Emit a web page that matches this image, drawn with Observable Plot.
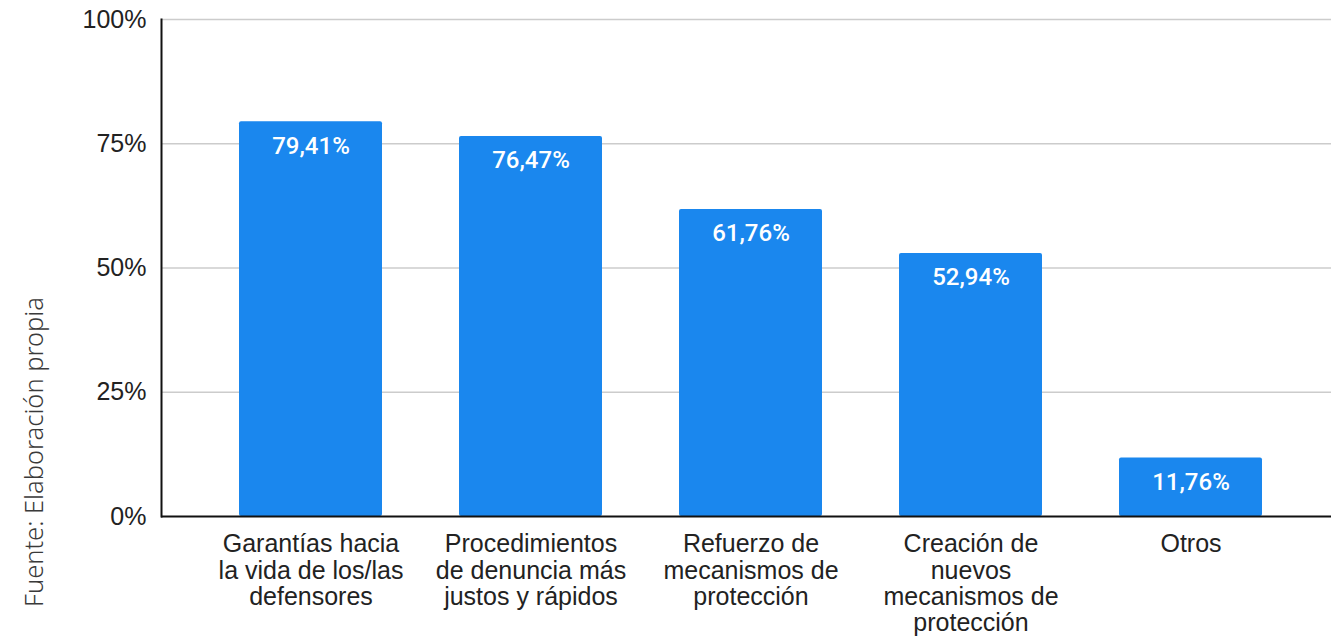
<!DOCTYPE html>
<html>
<head>
<meta charset="utf-8">
<script src="https://cdn.jsdelivr.net/npm/d3@7"></script>
<script src="https://cdn.jsdelivr.net/npm/@observablehq/plot@0.6"></script>
<style>
  html, body { margin: 0; padding: 0; background: #fff; }
  #wrap { position: relative; width: 1331px; height: 637px; overflow: hidden; }
  #caption {
    position: absolute; left: 33px; top: 452px; z-index: 5;
    transform: translate(-50%, -50%) rotate(-90deg);
    white-space: nowrap;
    font-family: "Noto Sans", sans-serif; font-size: 25.5px; font-weight: 300; color: #3a3a3a;
  }
</style>
</head>
<body>
<div id="wrap"><div id="caption">Fuente: Elaboración propia</div></div>
<script>
const categories = [
  "Garantías hacia\nla vida de los/las\ndefensores",
  "Procedimientos\nde denuncia más\njustos y rápidos",
  "Refuerzo de\nmecanismos de\nprotección",
  "Creación de\nnuevos\nmecanismos de\nprotección",
  "Otros"
];
const values = [79.41, 76.47, 61.76, 52.94, 11.76];
const yTicks = [0, 25, 50, 75, 100];

const data = categories.map((c, i) => ({cat: c, value: values[i]}));
const fmt = v => v.toFixed(2).replace(".", ",") + "%";
const font = "'Liberation Sans', Arial, sans-serif";

const chart = Plot.plot({
  width: 1331,
  height: 637,
  marginLeft: 161,
  marginRight: 0,
  marginTop: 19,
  marginBottom: 121,
  style: {fontFamily: font, background: "transparent", color: "#222"},
  x: {domain: categories, paddingInner: 0.35, paddingOuter: 0.175, insetLeft: 39.5, insetRight: 30.5, label: null},
  y: {domain: [0, 100], label: null},
  marks: [
    Plot.ruleY(yTicks.filter(d => d > 0), {stroke: "#cccccc", strokeWidth: 1.5}),
    Plot.barY(data, {x: "cat", y: "value", fill: "#1a87ee", rx: 2}),
    Plot.text(data, {x: "cat", y: "value", text: d => fmt(d.value), fill: "white", dy: 24, fontSize: 24, fontWeight: 500, fontFamily: "Roboto, sans-serif"}),
    Plot.axisY({ticks: yTicks, tickSize: 0, tickPadding: 15, fontSize: 25, tickFormat: d => d + "%", label: null}),
    Plot.axisX({tickSize: 0, tickPadding: 17, fontSize: 25, lineHeight: 1.055, label: null}),
    Plot.ruleY([0], {stroke: "#111", strokeWidth: 2}),
    Plot.frame({anchor: "left", stroke: "#111", strokeWidth: 2})
  ]
});
chart.style.position = "absolute";
chart.style.left = "0";
chart.style.top = "0";
chart.style.zIndex = "1";
document.getElementById("wrap").appendChild(chart);
</script>
</body>
</html>
